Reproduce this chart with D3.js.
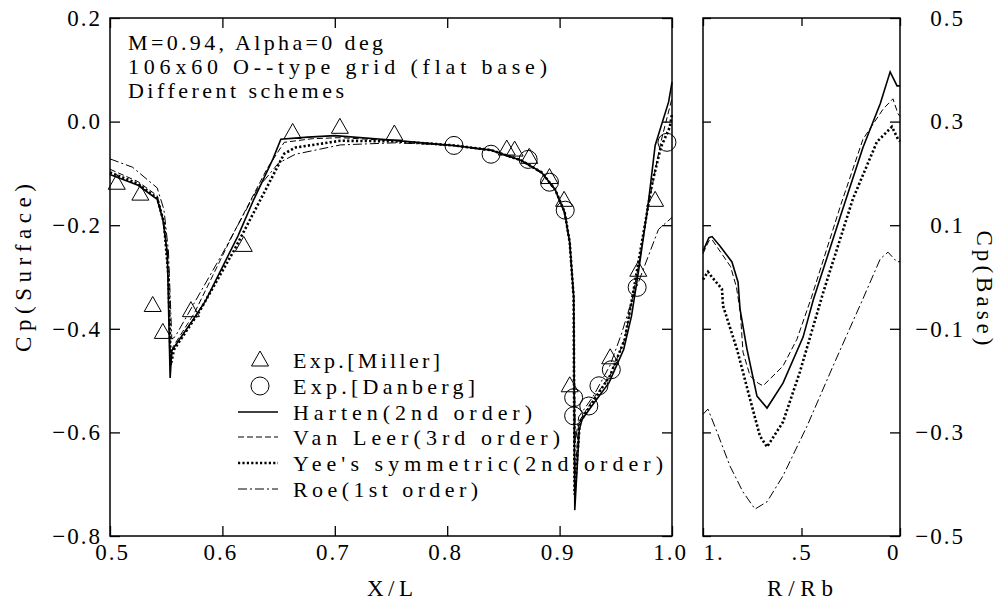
<!DOCTYPE html>
<html lang="en">
<head>
  <meta charset="UTF-8">
  <title>Cp surface and base, different schemes</title>
  <script src="https://cdn.jsdelivr.net/npm/d3@7"></script>
  <style>
    body { margin: 0; padding: 0; background: #fff; }
    svg { display: block; }
    svg text { font-family: "Liberation Serif", "DejaVu Serif", "Liberation Mono", "Times New Roman", serif; fill: #000; }
  </style>
</head>
<body>
<div id="chart"></div>

<script>
  // ---- data ----
  // surface: [X/L, Cp]
  const harten = [[0.5,-0.102],[0.525,-0.123],[0.542,-0.150],[0.547,-0.189],[0.551,-0.253],[0.552,-0.350],
    [0.5535,-0.495],[0.555,-0.442],[0.574,-0.382],[0.585,-0.346],[0.614,-0.220],[0.628,-0.150],[0.645,-0.072],
    [0.652,-0.034],[0.676,-0.030],[0.700,-0.027],[0.753,-0.036],[0.788,-0.043],[0.806,-0.046],[0.839,-0.055],
    [0.866,-0.075],[0.884,-0.098],[0.896,-0.131],[0.9045,-0.175],[0.909,-0.233],[0.9125,-0.336],[0.913,-0.50],
    [0.9135,-0.75],[0.9175,-0.595],[0.920,-0.575],[0.9286,-0.549],[0.944,-0.504],[0.957,-0.440],[0.964,-0.375],
    [0.9705,-0.285],[0.979,-0.156],[0.985,-0.046],[0.997,0.038],[1.0,0.076]];
  const vanLeer = [[0.5,-0.092],[0.525,-0.116],[0.542,-0.143],[0.548,-0.195],[0.552,-0.30],[0.554,-0.465],
    [0.556,-0.435],[0.575,-0.37],[0.61,-0.215],[0.64,-0.09],[0.655,-0.04],[0.68,-0.033],[0.705,-0.031],
    [0.753,-0.037],[0.788,-0.043],[0.806,-0.046],[0.839,-0.055],[0.866,-0.075],[0.884,-0.098],[0.896,-0.131],
    [0.9045,-0.175],[0.909,-0.233],[0.9125,-0.34],[0.9132,-0.70],[0.917,-0.58],[0.93,-0.535],[0.945,-0.49],
    [0.958,-0.42],[0.97,-0.28],[0.98,-0.15],[0.99,-0.04],[1.0,0.045]];
  const yee = [[0.5,-0.098],[0.525,-0.12],[0.542,-0.148],[0.548,-0.195],[0.552,-0.30],[0.554,-0.47],
    [0.557,-0.44],[0.58,-0.365],[0.61,-0.25],[0.64,-0.125],[0.655,-0.062],[0.665,-0.05],[0.705,-0.037],
    [0.753,-0.038],[0.788,-0.043],[0.806,-0.046],[0.839,-0.055],[0.866,-0.075],[0.884,-0.098],[0.896,-0.131],
    [0.9045,-0.175],[0.909,-0.233],[0.9125,-0.34],[0.9133,-0.72],[0.918,-0.58],[0.93,-0.54],[0.945,-0.49],
    [0.958,-0.42],[0.967,-0.311],[0.975,-0.21],[0.982,-0.123],[0.99,-0.05],[0.998,-0.011],[1.0,0.015]];
  const roe = [[0.5,-0.072],[0.52,-0.088],[0.542,-0.128],[0.548,-0.17],[0.552,-0.25],[0.555,-0.42],
    [0.558,-0.415],[0.575,-0.35],[0.6,-0.255],[0.632,-0.127],[0.65,-0.08],[0.665,-0.063],[0.705,-0.045],
    [0.753,-0.041],[0.788,-0.044],[0.806,-0.047],[0.839,-0.056],[0.866,-0.076],[0.884,-0.1],[0.896,-0.133],
    [0.9045,-0.178],[0.909,-0.235],[0.9125,-0.34],[0.914,-0.62],[0.917,-0.57],[0.93,-0.53],[0.945,-0.47],
    [0.955,-0.41],[0.965,-0.34],[0.975,-0.282],[0.988,-0.208],[1.0,-0.185]];
  const miller = [[0.506,-0.119],[0.527,-0.140],[0.538,-0.355],[0.547,-0.407],[0.572,-0.365],[0.619,-0.239],
    [0.6625,-0.021],[0.7045,-0.011],[0.753,-0.024],[0.853,-0.053],[0.86,-0.055],[0.873,-0.069],[0.891,-0.108],
    [0.904,-0.152],[0.909,-0.51],[0.945,-0.456],[0.970,-0.287],[0.985,-0.152]];
  const danberg = [[0.806,-0.046],[0.839,-0.063],[0.872,-0.073],[0.891,-0.117],[0.905,-0.171],[0.9125,-0.533],
    [0.9125,-0.568],[0.926,-0.549],[0.935,-0.51],[0.946,-0.479],[0.969,-0.320],[0.9955,-0.040]];

  // base: [R/Rb, Cp]
  const hartenBase = [[1,0.05],[0.97,0.076],[0.954,0.078],[0.914,0.06],[0.853,0.029],[0.822,-0.01],[0.812,-0.062],
    [0.777,-0.139],[0.726,-0.23],[0.675,-0.253],[0.594,-0.205],[0.492,-0.116],[0.44,-0.044],[0.30,0.12],
    [0.188,0.25],[0.10,0.335],[0.05,0.396],[0.015,0.369],[0,0.369]];
  const vanLeerBase = [[1,0.045],[0.97,0.07],[0.954,0.072],[0.914,0.05],[0.86,0.02],[0.83,-0.02],[0.81,-0.07],
    [0.797,-0.145],[0.761,-0.191],[0.72,-0.205],[0.695,-0.21],[0.594,-0.172],[0.523,-0.12],[0.45,-0.04],
    [0.30,0.14],[0.188,0.266],[0.086,0.324],[0.036,0.344],[0.01,0.315],[0,0.31]];
  const yeeBase = [[1,-0.005],[0.975,0.01],[0.955,0.0],[0.904,-0.023],[0.898,-0.056],[0.828,-0.139],[0.761,-0.236],
    [0.711,-0.307],[0.675,-0.328],[0.594,-0.28],[0.508,-0.183],[0.39,-0.03],[0.239,0.151],[0.117,0.261],
    [0.041,0.29],[0.01,0.266],[0,0.262]];
  const roeBase = [[1,-0.265],[0.975,-0.255],[0.929,-0.299],[0.863,-0.365],[0.797,-0.415],[0.736,-0.448],
    [0.675,-0.434],[0.594,-0.384],[0.472,-0.288],[0.34,-0.172],[0.188,-0.042],[0.10,0.035],[0.061,0.048],
    [0.015,0.029],[0,0.03]];

  const xTicks = [0.5, 0.6, 0.7, 0.8, 0.9, 1.0];
  const ySurfTicks = [0.2, 0.0, -0.2, -0.4, -0.6, -0.8];
  const rTicks = [1, 0.5, 0];
  const rTickLabels = ["1.", ".5", "0"];
  const yBaseTicks = [0.5, 0.3, 0.1, -0.1, -0.3, -0.5];

  const notes = ["M=0.94, Alpha=0 deg", "106x60 O--type grid (flat base)", "Different schemes"];
  const legendNames = ["Exp.[Miller]", "Exp.[Danberg]", "Harten(2nd order)", "Van Leer(3rd order)",
    "Yee's symmetric(2nd order)", "Roe(1st order)"];

  // ---- layout ----
  const width = 999, height = 601;
  const yTop = 18, yBot = 536;
  const L = {x0: 110, x1: 672};
  const R = {x0: 703, x1: 900};

  const x = d3.scaleLinear().domain([0.5, 1.0]).range([L.x0, L.x1]);
  const y = d3.scaleLinear().domain([0.2, -0.8]).range([yTop, yBot]);
  const xr = d3.scaleLinear().domain([1, 0]).range([R.x0, R.x1]);
  const yr = d3.scaleLinear().domain([0.5, -0.5]).range([yTop, yBot]);

  const styles = {
    harten:  {w: 1.6, dash: null},
    vanLeer: {w: 1.0, dash: "6,3"},
    yee:     {w: 2.6, dash: "2.2,2.2"},
    roe:     {w: 1.0, dash: "9,3,2,3"}
  };

  const svg = d3.select("#chart").append("svg")
    .attr("width", width)
    .attr("height", height)
    .style("background", "#fff");

  const fmt = d3.format(".1f");
  const tickFont = g => g.attr("font-family", null).attr("font-size", null)
    .call(g => g.select(".domain").remove())
    .call(g => g.selectAll("line").attr("stroke", "#000").attr("stroke-width", 1.3))
    .call(g => g.selectAll("text").style("font-size", "23px").style("letter-spacing", "2px"));

  // ---- left panel axes ----
  svg.append("g").attr("transform", `translate(${L.x0},0)`)
    .call(d3.axisLeft(y).tickValues(ySurfTicks).tickSize(-10).tickPadding(8).tickFormat(fmt))
    .call(tickFont);
  svg.append("g").attr("transform", `translate(${L.x1},0)`)
    .call(d3.axisRight(y).tickValues(ySurfTicks).tickSize(-10).tickFormat(""))
    .call(tickFont);
  svg.append("g").attr("transform", `translate(0,${yBot})`)
    .call(d3.axisBottom(x).tickValues(xTicks).tickSize(-10).tickPadding(8).tickFormat(fmt))
    .call(tickFont)
    .call(g => g.selectAll("text").attr("dx", (d, i) => i === 0 ? 2 : -2));
  svg.append("g").attr("transform", `translate(0,${yTop})`)
    .call(d3.axisTop(x).tickValues(xTicks).tickSize(-10).tickFormat(""))
    .call(tickFont);

  // ---- right panel axes ----
  svg.append("g").attr("transform", `translate(${R.x0},0)`)
    .call(d3.axisLeft(yr).tickValues(yBaseTicks).tickSize(-8).tickFormat(""))
    .call(tickFont);
  svg.append("g").attr("transform", `translate(${R.x1},0)`)
    .call(d3.axisRight(yr).tickValues(yBaseTicks).tickSize(-10).tickPadding(65).tickFormat(fmt))
    .call(tickFont)
    .call(g => g.selectAll("text").attr("text-anchor", "end"));
  const rAnchor = ["start", "middle", "end"];
  svg.append("g").attr("transform", `translate(0,${yBot})`)
    .call(d3.axisBottom(xr).tickValues(rTicks).tickSize(-8).tickPadding(8)
      .tickFormat((d, i) => rTickLabels[i]))
    .call(tickFont)
    .call(g => g.selectAll("text").attr("text-anchor", (d, i) => rAnchor[i]));
  svg.append("g").attr("transform", `translate(0,${yTop})`)
    .call(d3.axisTop(xr).tickValues(rTicks).tickSize(-8).tickFormat(""))
    .call(tickFont);

  // frames
  [[L.x0, L.x1], [R.x0, R.x1]].forEach(([a, b]) => {
    svg.append("rect")
      .attr("x", a).attr("y", yTop)
      .attr("width", b - a).attr("height", yBot - yTop)
      .attr("fill", "none").attr("stroke", "#000").attr("stroke-width", 1.5);
  });

  // ---- curves ----
  const lineS = d3.line().x(d => x(d[0])).y(d => y(d[1]));
  const lineB = d3.line().x(d => xr(d[0])).y(d => yr(d[1]));

  function drawCurve(gen, data, st) {
    svg.append("path")
      .attr("d", gen(data))
      .attr("fill", "none")
      .attr("stroke", "#000")
      .attr("stroke-width", st.w)
      .attr("stroke-dasharray", st.dash);
  }
  drawCurve(lineS, roe, styles.roe);
  drawCurve(lineS, vanLeer, styles.vanLeer);
  drawCurve(lineS, yee, styles.yee);
  drawCurve(lineS, harten, styles.harten);
  drawCurve(lineB, roeBase, styles.roe);
  drawCurve(lineB, vanLeerBase, styles.vanLeer);
  drawCurve(lineB, yeeBase, styles.yee);
  drawCurve(lineB, hartenBase, styles.harten);

  // ---- experiment symbols ----
  const tri = "M0,-9L8.5,6L-8.5,6Z";
  svg.append("g").selectAll("path")
    .data(miller)
    .join("path")
    .attr("d", tri)
    .attr("transform", d => `translate(${x(d[0])},${y(d[1])})`)
    .attr("fill", "none").attr("stroke", "#000").attr("stroke-width", 1);
  svg.append("g").selectAll("circle")
    .data(danberg)
    .join("circle")
    .attr("cx", d => x(d[0])).attr("cy", d => y(d[1])).attr("r", 9)
    .attr("fill", "none").attr("stroke", "#000").attr("stroke-width", 1);

  // ---- notes ----
  const noteLen = [255, 419, 216];
  svg.append("g").selectAll("text")
    .data(notes)
    .join("text")
    .attr("x", 128)
    .attr("y", (d, i) => 50 + i * 24)
    .attr("font-size", 22)
    .attr("textLength", (d, i) => noteLen[i])
    .attr("lengthAdjust", "spacing")
    .text(d => d);

  // ---- legend ----
  const legY = [360, 386, 412, 437, 463, 489];
  const legLen = [147, 182, 239, 267, 370, 185];
  const legKinds = ["tri", "circ", "harten", "vanLeer", "yee", "roe"];
  const leg = svg.append("g");
  legKinds.forEach((k, i) => {
    const cy = legY[i];
    if (k === "tri") {
      leg.append("path").attr("d", tri).attr("transform", `translate(260,${cy})`)
        .attr("fill", "none").attr("stroke", "#000").attr("stroke-width", 1);
    } else if (k === "circ") {
      leg.append("circle").attr("cx", 260).attr("cy", cy).attr("r", 9)
        .attr("fill", "none").attr("stroke", "#000").attr("stroke-width", 1);
    } else {
      const st = styles[k];
      leg.append("line").attr("x1", 238).attr("x2", 278).attr("y1", cy).attr("y2", cy)
        .attr("stroke", "#000").attr("stroke-width", st.w).attr("stroke-dasharray", st.dash);
    }
    leg.append("text")
      .attr("x", 293).attr("y", cy + 8)
      .attr("font-size", 22)
      .attr("textLength", legLen[i])
      .attr("lengthAdjust", "spacing")
      .text(legendNames[i]);
  });

  // ---- axis titles ----
  svg.append("text").attr("x", 390).attr("y", 596).attr("text-anchor", "middle")
    .attr("font-size", 23).attr("textLength", 46).attr("lengthAdjust", "spacing").text("X/L");
  svg.append("text").attr("x", 800).attr("y", 596).attr("text-anchor", "middle")
    .attr("font-size", 23).attr("textLength", 66).attr("lengthAdjust", "spacing").text("R/Rb");
  svg.append("text").attr("transform", "translate(31,268) rotate(-90)").attr("text-anchor", "middle")
    .attr("font-size", 23).attr("textLength", 168).attr("lengthAdjust", "spacing").text("Cp(Surface)");
  svg.append("text").attr("transform", "translate(977,288) rotate(90)").attr("text-anchor", "middle")
    .attr("font-size", 23).attr("textLength", 115).attr("lengthAdjust", "spacing").text("Cp(Base)");
</script>
</body>
</html>
